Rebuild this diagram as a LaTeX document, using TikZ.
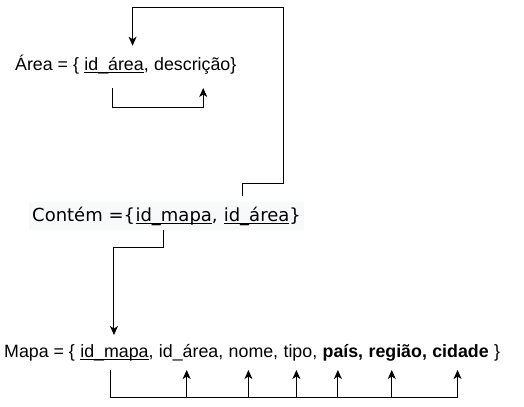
\documentclass[tikz,border=0pt]{standalone}
\usepackage{fontspec}
\setmainfont{Liberation Sans}
\newfontfamily\contfont{DejaVu Sans}
\usepackage{tikz}
\usepackage{xcolor}
\usetikzlibrary{
	arrows.meta,
	positioning,
	fit,
	backgrounds
}

\definecolor{contbg}{HTML}{F8F9FA}
\newsavebox\keybox
\newcommand{\keyul}[1]{\sbox\keybox{#1}\rlap{\rule[-3.2bp]{\wd\keybox}{1bp}}\usebox\keybox}

\begin{document}
\begin{tikzpicture}[
            x=1bp, y=-1bp,
            node distance=0bp and 5bp,
            txt/.style={
                inner sep=0pt,
                font=\fontsize{17.8bp}{21bp}\selectfont
            },
            ctxt/.style={
                inner sep=0pt,
                font=\contfont\fontsize{18bp}{21bp}\selectfont
            },
            arr/.style={-{Stealth[length=9bp,width=8bp,inset=2.5bp]},line width=1bp},
            wire/.style={line width=1bp}
        ]
            \useasboundingbox (0,0) rectangle (524,406);

            \node[txt,anchor=base west] (areahead) at (15,70) {Área = \{};
            \node[txt,base right=of areahead] (areaid) {\keyul{id\_área},};
            \node[txt,base right=of areaid] (areadesc) {descrição\}};

            \node[ctxt,anchor=base west] (conthead) at (32,221) {Contém =\{};
            \node[ctxt,base right=0bp of conthead] (contmapa) {\keyul{id\_mapa},};
            \node[ctxt,base right=5.7bp of contmapa] (contarea) {\keyul{id\_área}\}};

            \node[txt,anchor=base west] (mapahead) at (4,357) {Mapa = \{};
            \node[txt,base right=of mapahead] (mapaid) {\keyul{id\_mapa},};
            \node[txt,base right=of mapaid] (mapaarea) {id\_área,};
            \node[txt,base right=of mapaarea] (mapanome) {nome,};
            \node[txt,base right=of mapanome] (mapatipo) {tipo,};
            \node[txt,base right=of mapatipo] (mapapais) {\textbf{país,}};
            \node[txt,base right=of mapapais] (maparegiao) {\textbf{região,}};
            \node[txt,base right=of maparegiao] (mapacidade) {\textbf{cidade}};
            \node[txt,base right=of mapacidade] (mapaend) {\}};

            \begin{scope}[on background layer]
                \node[fill=contbg,inner xsep=3bp,inner ysep=4.5bp,fit=(conthead)(contarea)] (contbox) {};
            \end{scope}

            \coordinate (loopcorner) at (283,7);
            \coordinate (bus) at (0,397);

            \draw[arr] ([xshift=-19.5bp,yshift=10bp]contarea.north) -- ++(0,-13)
                -| (loopcorner) -| ([xshift=16bp,yshift=11bp]areaid.north);
            \draw[arr] ([xshift=-4bp,yshift=-18bp]areaid.base) -- ++(0,19)
                -| ([xshift=8bp,yshift=-18bp]areadesc.base);
            \draw[arr] ([xshift=-13bp,yshift=-9bp]contmapa.base) -- ++(0,17)
                -| ([xshift=-3bp,yshift=22bp]mapaid.base);

            \draw[wire] ([xshift=-6bp,yshift=-13bp]mapaid.base) -- ([xshift=-6bp]mapaid.base |- bus)
                -- ([xshift=-3bp]mapacidade.base |- bus);
            \foreach \field/\dx in {mapaarea/-4.5,mapanome/-5,mapatipo/-4,mapapais/-5,maparegiao/-6,mapacidade/-3}
                \draw[arr] ([xshift=\dx bp]\field.base |- bus) -- ([xshift=\dx bp,yshift=-13bp]\field.base);
        \end{tikzpicture}
\end{document}
